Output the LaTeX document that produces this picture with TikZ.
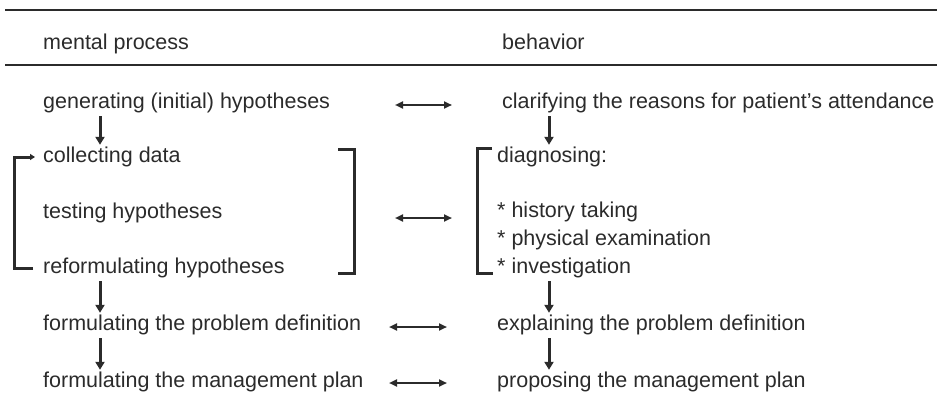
\documentclass[tikz,border=0pt]{standalone}
\usepackage{fontspec}
\setmainfont{Liberation Sans}
\usepackage{xcolor}
\usepackage{tikz}
\usetikzlibrary{arrows.meta, calc}
\definecolor{ink}{HTML}{2B2B2B}
\tikzstyle{txt} = [anchor=west, inner sep=0pt, text height=15pt, text depth=5pt, text=ink, font=\fontsize{21.5}{24}\selectfont]
\tikzstyle{downarrow} = [-{Triangle[width=9pt, length=8pt]}, line width=3pt, draw=ink, shorten <=3pt, shorten >=2pt]
\tikzstyle{twoway} = [{Triangle[width=7pt, length=8pt]}-{Triangle[width=7pt, length=8pt]}, line width=2.5pt, draw=ink]
\tikzstyle{bracket} = [line width=3pt, draw=ink]
\tikzstyle{rule} = [line width=2pt, draw=ink]

\begin{document}
\begin{tikzpicture}[x=1pt, y=-1pt]
  \useasboundingbox (0,0) rectangle (937,412);

  % header rules
  \draw[rule] (5,10) -- (937,10);
  \draw[rule] (5,65) -- (937,65);

  % left column
  \node[txt] (mental) at (43,45) {mental process};
  \node[txt] (gen) at (43,103) {generating (initial) hypotheses};
  \node[txt] (collect) at (43,157) {collecting data};
  \node[txt] (test) at (43,213) {testing hypotheses};
  \node[txt] (reform) at (43,268) {reformulating hypotheses};
  \node[txt] (probdef) at (43,325) {formulating the problem definition};
  \node[txt] (plan) at (43,382) {formulating the management plan};

  % right column
  \node[txt] (behav) at (502,45) {behavior};
  \node[txt] (clar) at (502,103) {clarifying the reasons for patient's attendance};
  \node[txt] (diag) at (497,157) {diagnosing:};
  \node[txt] (hist) at (497,212) {* history taking};
  \node[txt] (phys) at (497,240) {* physical examination};
  \node[txt] (inv) at (497,268) {* investigation};
  \node[txt] (expl) at (497,325) {explaining the problem definition};
  \node[txt] (prop) at (497,382) {proposing the management plan};

  \coordinate (dl) at (100,0);
  \coordinate (dr) at (549,0);
  \coordinate (ml) at (395,0);
  \coordinate (mr) at (452,0);
  \coordinate (bl) at (389,0);
  \coordinate (br) at (447,0);

  % flow down
  \draw[downarrow] (gen.south -| dl) -- (collect.north -| dl);
  \draw[downarrow] (reform.south -| dl) -- (probdef.north -| dl);
  \draw[downarrow] (probdef.south -| dl) -- (plan.north -| dl);
  \draw[downarrow] (clar.south -| dr) -- (diag.north -| dr);
  \draw[downarrow] (inv.south -| dr) -- (expl.north -| dr);
  \draw[downarrow] (expl.south -| dr) -- (prop.north -| dr);

  % links between columns
  \draw[twoway] ([yshift=-2pt]gen.west -| ml) -- ([yshift=-2pt]clar.west -| mr);
  \draw[twoway] ([yshift=-5pt]test.west -| ml) -- ([yshift=-5pt]test.west -| mr);
  \draw[twoway] ([yshift=-2pt]probdef.west -| bl) -- ([yshift=-2pt]expl.west -| br);
  \draw[twoway] ([yshift=-1pt]plan.west -| bl) -- ([yshift=-1pt]prop.west -| br);

  % loop and brackets
  \draw[bracket, -{Triangle[width=6pt, length=5pt]}] ([xshift=-10pt]reform.west) -| ([xshift=-29pt]collect.west) -- ([xshift=-8pt]collect.west);
  \draw[bracket] (338,149) -- (354,149) -- (354,273) -- (338,273);
  \draw[bracket] (492,148) -- (477,148) -- (477,273) -- (493,273);
\end{tikzpicture}
\end{document}
